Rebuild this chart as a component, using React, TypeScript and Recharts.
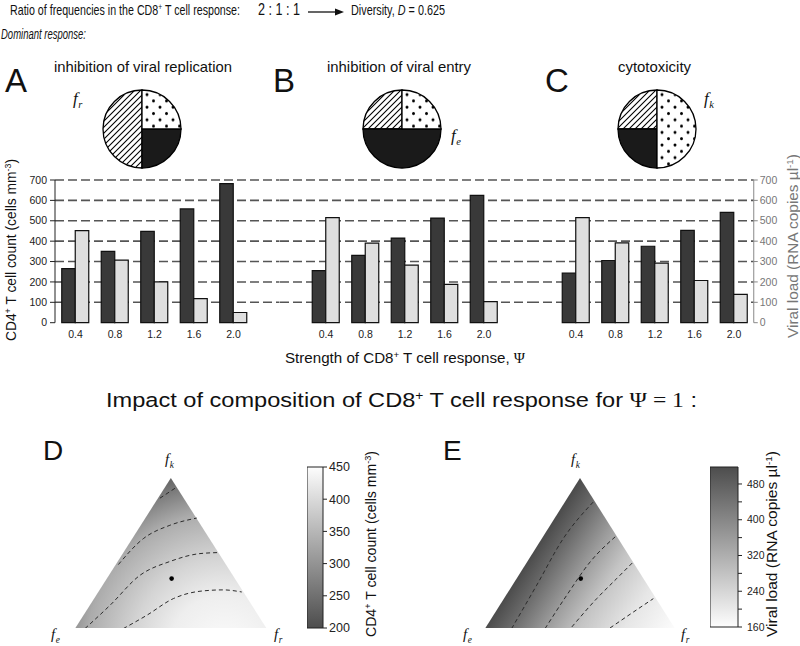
import React from 'react';
import {
  BarChart, Bar, XAxis, YAxis, CartesianGrid, PieChart, Pie, Cell,
  ComposedChart, Area, Line, Scatter, ZAxis,
} from 'recharts';

// Panels A-C: CD4 count (dark) and viral load (light) for each strength psi
const psiLabels = ['0.4', '0.8', '1.2', '1.6', '2.0'];
const cd4Replication = [265, 350, 448, 558, 682];
const viralReplication = [452, 307, 200, 118, 50];
const cd4Entry = [255, 330, 415, 513, 625];
const viralEntry = [515, 390, 282, 188, 103];
const cd4Cytotox = [243, 305, 375, 453, 541];
const viralCytotox = [515, 392, 292, 207, 139];
const countTicks = [0, 100, 200, 300, 400, 500, 600, 700];
const gridValues = [100, 200, 300, 400, 500, 600, 700];

// pie slices: f_r (hatched), f_e (black), f_k (dotted)
const pieNames = ['f_r', 'f_e', 'f_k'];
const ratioReplication = [2, 1, 1];
const ratioEntry = [1, 2, 1];
const ratioCytotox = [1, 1, 2];

// Panels D-E: ternary triangles (unit coords) and contour lines
const triangleCorners = [[0, 0], [0.5, 1], [1, 0]];
const contoursCd4 = [
  [[0.443, 0.866], [0.53, 0.939]],
  [[0.226, 0.425], [0.356, 0.597], [0.495, 0.686], [0.635, 0.734]],
  [[0.052, 0.0], [0.183, 0.155], [0.339, 0.354], [0.496, 0.446], [0.652, 0.498], [0.756, 0.505]],
  [[0.252, 0.0], [0.374, 0.088], [0.513, 0.199], [0.652, 0.248], [0.774, 0.257], [0.87, 0.243]],
];
const contoursViral = [
  [[0.14, 0.0], [0.272, 0.288], [0.412, 0.598], [0.57, 0.841]],
  [[0.316, 0.0], [0.43, 0.221], [0.553, 0.442], [0.693, 0.618]],
  [[0.457, 0.011], [0.588, 0.199], [0.693, 0.332], [0.781, 0.443]],
  [[0.658, 0.004], [0.781, 0.11], [0.886, 0.199]],
];
const compositionPoint = [0.504, 0.332];
const cd4ScaleDomain = [200, 450];
const cd4ScaleTicks = [200, 250, 300, 350, 400, 450];
const viralScaleDomain = [160, 518];
const viralScaleTicks = [160, 200, 240, 280, 320, 360, 400, 440, 480];
const viralScaleLabels = [160, 240, 320, 400, 480];

const SANS = '"Liberation Sans", Arial, sans-serif';
const SERIF = '"Liberation Serif", "Times New Roman", serif';

const toPoints = (pts: number[][]) => pts.map(([x, y]) => ({ x, y }));

const FLabel = ({ x, y, sub, size = 15 }: any) => (
  <text x={x} y={y} fontFamily={SERIF} fontStyle="italic" fontSize={size} fill="#111">
    f<tspan dx={0.5} dy={4} fontSize={size * 0.62}>{sub}</tspan>
  </text>
);

const BarPanel = ({ cd4, viral, left, width, padding, axis }: any) => {
  const data = psiLabels.map((psi, i) => ({ psi, cd4: cd4[i], viral: viral[i] }));
  return (
    <div style={{ position: 'absolute', left, top: 170 }}>
      <BarChart width={width} height={180} data={data} margin={{ top: 10, right: 0, bottom: 0, left: 0 }} barGap={0}>
        <CartesianGrid vertical={false} horizontalValues={gridValues} stroke="#555" strokeWidth={1.6}
          strokeDasharray="9 4" />
        <XAxis dataKey="psi" height={27.3} padding={padding} axisLine={false} tickLine={false} interval={0}
          tick={{ fontSize: 10.5, fill: '#222' }} />
        {axis === 'left' && (
          <YAxis domain={[0, 700]} ticks={countTicks} interval={0} width={55} tickSize={5} tickMargin={3}
            axisLine={{ stroke: '#222' }} tickLine={{ stroke: '#222' }} tick={{ fontSize: 10.5, fill: '#222' }} />
        )}
        {axis === 'right' && (
          <YAxis orientation="right" domain={[0, 700]} ticks={countTicks} interval={0} width={46.75} tickSize={4}
            tickMargin={2} axisLine={{ stroke: '#888' }} tickLine={{ stroke: '#888' }}
            tick={{ fontSize: 10.5, fill: '#777' }} />
        )}
        {axis === 'none' && <YAxis hide domain={[0, 700]} ticks={countTicks} interval={0} />}
        <Bar dataKey="cd4" barSize={13.5} fill="#393939" stroke="#111" strokeWidth={1.2} isAnimationActive={false} />
        <Bar dataKey="viral" barSize={13.5} fill="#dfdfdf" stroke="#111" strokeWidth={1.2} isAnimationActive={false} />
      </BarChart>
    </div>
  );
};

const fills = ['url(#hatch)', '#1a1a1a', 'url(#dots)'];

const Composition = ({ ratio, cx }: any) => {
  const data = pieNames.map((name, i) => ({ name, value: ratio[i] }));
  return (
    <div style={{ position: 'absolute', left: cx - 45, top: 124 - 45 }}>
      <PieChart width={90} height={90}>
        <Pie data={data} dataKey="value" cx={45} cy={45} outerRadius={39} startAngle={90} endAngle={450}
          stroke="#000" strokeWidth={1.3} isAnimationActive={false}>
          {data.map((d, i) => <Cell key={d.name} fill={fills[i]} />)}
        </Pie>
      </PieChart>
    </div>
  );
};

const Ternary = ({ left, width, gradientId, contours }: any) => (
  <div style={{ position: 'absolute', left, top: 477.7 }}>
    <ComposedChart width={width} height={150.6} margin={{ top: 0, right: 0, bottom: 0, left: 0 }}>
      <XAxis type="number" dataKey="x" domain={[0, 1]} hide />
      <YAxis type="number" dataKey="y" domain={[0, 1]} hide />
      <ZAxis range={[14, 14]} />
      <Area data={toPoints(triangleCorners)} dataKey="y" type="linear" stroke="none"
        fill={`url(#${gradientId})`} fillOpacity={1} isAnimationActive={false} />
      {contours.map((c: number[][], i: number) => (
        <Line key={i} data={toPoints(c)} dataKey="y" type="monotone" stroke="#2a2a2a" strokeWidth={1}
          strokeDasharray="4 3" dot={false} isAnimationActive={false} />
      ))}
      <Scatter data={toPoints([compositionPoint])} dataKey="y" fill="#000" isAnimationActive={false}
        shape={(p: any) => <circle cx={p.cx} cy={p.cy} r={2.3} fill="#000" />} />
    </ComposedChart>
  </div>
);

const ColorScale = ({ left, height, plotWidth, axisWidth, gradientId, domain, ticks, labels, fontSize, tickMargin }: any) => (
  <div style={{ position: 'absolute', left, top: 467 - 10 }}>
    <BarChart width={plotWidth + axisWidth} height={height + 20} data={[{ name: 'scale', top: domain[1] }]}
      margin={{ top: 10, right: 0, bottom: 10, left: 0 }} barCategoryGap={0}>
      <XAxis dataKey="name" hide />
      <YAxis orientation="right" domain={domain} ticks={ticks} interval={0} width={axisWidth} axisLine={false}
        tickSize={4} tickMargin={tickMargin} tickLine={{ stroke: '#222' }} tick={{ fontSize, fill: '#222' }}
        tickFormatter={(v: number) => (labels.includes(v) ? String(v) : '')} />
      <Bar dataKey="top" fill={`url(#${gradientId})`} stroke="#222" strokeWidth={1} isAnimationActive={false} />
    </BarChart>
  </div>
);

export default function App() {
  return (
    <div style={{ position: 'absolute', left: 0, top: 0, width: 800, height: 646, background: '#fff', fontFamily: SANS }}>
      <svg width={0} height={0} style={{ position: 'absolute' }}>
        <defs>
          <pattern id="hatch" patternUnits="userSpaceOnUse" width={6} height={6}>
            <rect width={6} height={6} fill="#fff" />
            <path d="M-1,1 l2,-2 M0,6 l6,-6 M5,7 l2,-2" stroke="#000" strokeWidth={1.1} />
          </pattern>
          <pattern id="dots" patternUnits="userSpaceOnUse" width={13} height={12.6}>
            <rect width={13} height={12.6} fill="#fff" />
            <circle cx={3} cy={3} r={1.5} fill="#000" />
            <circle cx={9.5} cy={9.3} r={1.5} fill="#000" />
          </pattern>
          <radialGradient id="gradCd4" gradientUnits="userSpaceOnUse" cx={150} cy={172} r={185}>
            <stop offset="0" stopColor="#fcfcfc" />
            <stop offset="0.3" stopColor="#eeeeee" />
            <stop offset="0.5" stopColor="#d4d4d4" />
            <stop offset="0.75" stopColor="#ababab" />
            <stop offset="1" stopColor="#5c5c5c" />
          </radialGradient>
          <linearGradient id="gradViral" gradientUnits="userSpaceOnUse" x1={0} y1={150.6} x2={134.9} y2={236.8}>
            <stop offset="0" stopColor="#4c4c4c" />
            <stop offset="0.13" stopColor="#6a6a6a" />
            <stop offset="0.32" stopColor="#9c9c9c" />
            <stop offset="0.49" stopColor="#c4c4c4" />
            <stop offset="0.73" stopColor="#e6e6e6" />
            <stop offset="1" stopColor="#fcfcfc" />
          </linearGradient>
          <linearGradient id="scaleCd4" x1={0} y1={0} x2={0} y2={1}>
            <stop offset="0" stopColor="#fdfdfd" />
            <stop offset="1" stopColor="#4d4d4d" />
          </linearGradient>
          <linearGradient id="scaleViral" x1={0} y1={0} x2={0} y2={1}>
            <stop offset="0" stopColor="#4d4d4d" />
            <stop offset="1" stopColor="#fdfdfd" />
          </linearGradient>
        </defs>
      </svg>

      <Composition ratio={ratioReplication} cx={137} />
      <Composition ratio={ratioEntry} cx={396.5} />
      <Composition ratio={ratioCytotox} cx={652} />

      <BarPanel cd4={cd4Replication} viral={viralReplication} left={0} width={279.5}
        padding={{ left: 0.75, right: 26.25 }} axis="left" />
      <BarPanel cd4={cd4Entry} viral={viralEntry} left={279.5} width={250}
        padding={{ left: 26.25, right: 26.25 }} axis="none" />
      <BarPanel cd4={cd4Cytotox} viral={viralCytotox} left={529.5} width={270.5}
        padding={{ left: 26.25, right: 0 }} axis="right" />

      <Ternary left={75} width={191.7} gradientId="gradCd4" contours={contoursCd4} />
      <Ternary left={485} width={190} gradientId="gradViral" contours={contoursViral} />

      <ColorScale left={307} height={161} plotWidth={16} axisWidth={40} gradientId="scaleCd4"
        domain={cd4ScaleDomain} ticks={cd4ScaleTicks} labels={cd4ScaleTicks} fontSize={12.5} tickMargin={2} />
      <ColorScale left={710} height={160} plotWidth={28} axisWidth={34} gradientId="scaleViral"
        domain={viralScaleDomain} ticks={viralScaleTicks} labels={viralScaleLabels} fontSize={10.5} tickMargin={5} />

      <svg width={800} height={646} style={{ position: 'absolute', left: 0, top: 0, pointerEvents: 'none' }}
        fontFamily={SANS} fill="#111">
        <text x={10} y={15} fontSize={14.5} textLength={230} lengthAdjust="spacingAndGlyphs">
          Ratio of frequencies in the CD8<tspan dy={-5} fontSize={9}>+</tspan><tspan dy={5}> T cell response:</tspan>
        </text>
        <text x={258} y={15} fontSize={16.5} textLength={42} lengthAdjust="spacingAndGlyphs">2 : 1 : 1</text>
        <line x1={308} y1={12} x2={337} y2={12} stroke="#111" strokeWidth={1.3} />
        <polygon points="335,8.5 344,12 335,15.5" fill="#111" />
        <text x={351} y={15} fontSize={14.5} textLength={94} lengthAdjust="spacingAndGlyphs">
          Diversity, <tspan fontStyle="italic">D</tspan> = 0.625
        </text>
        <text x={1} y={39} fontSize={14} fontStyle="italic" textLength={85} lengthAdjust="spacingAndGlyphs">
          Dominant response:
        </text>

        <text x={5} y={92} fontSize={33}>A</text>
        <text x={273} y={92} fontSize={33}>B</text>
        <text x={545} y={92} fontSize={33}>C</text>
        <text x={54} y={72} fontSize={14.5} textLength={178} lengthAdjust="spacingAndGlyphs">inhibition of viral replication</text>
        <text x={327} y={72} fontSize={14.5} textLength={144} lengthAdjust="spacingAndGlyphs">inhibition of viral entry</text>
        <text x={618} y={72} fontSize={14.5} textLength={73} lengthAdjust="spacingAndGlyphs">cytotoxicity</text>
        <FLabel x={73} y={104} sub="r" size={17} />
        <FLabel x={451} y={141} sub="e" size={17} />
        <FLabel x={704} y={104} sub="k" size={17} />

        <text transform="translate(15.5,250) rotate(-90)" textAnchor="middle" fontSize={14} textLength={182}
          lengthAdjust="spacingAndGlyphs">
          CD4<tspan dy={-5} fontSize={9}>+</tspan><tspan dy={5}> T cell count (cells mm</tspan>
          <tspan dy={-5} fontSize={9}>-3</tspan><tspan dy={5}>)</tspan>
        </text>
        <text transform="translate(798,246) rotate(-90)" textAnchor="middle" fontSize={14} textLength={184}
          lengthAdjust="spacingAndGlyphs" fill="#777">
          Viral load (RNA copies µl<tspan dy={-5} fontSize={9}>-1</tspan><tspan dy={5}>)</tspan>
        </text>
        <text x={285} y={363} fontSize={14} textLength={240} lengthAdjust="spacingAndGlyphs">
          Strength of CD8<tspan dy={-5} fontSize={9}>+</tspan><tspan dy={5}> T cell response, </tspan>
          <tspan fontFamily={SERIF}>Ψ</tspan>
        </text>

        <text x={106} y={407} fontSize={20.5} textLength={591} lengthAdjust="spacingAndGlyphs">
          Impact of composition of CD8<tspan dy={-7} fontSize={12}>+</tspan><tspan dy={7}> T cell response for </tspan>
          <tspan fontFamily={SERIF}>Ψ = 1</tspan> :
        </text>
        <text x={43} y={460} fontSize={28}>D</text>
        <text x={443} y={460} fontSize={28}>E</text>
        <FLabel x={165} y={464} sub="k" />
        <FLabel x={51} y={639} sub="e" />
        <FLabel x={274} y={639} sub="r" />
        <FLabel x={571} y={464} sub="k" />
        <FLabel x={463} y={639} sub="e" />
        <FLabel x={681} y={639} sub="r" />
        <text transform="translate(376,544) rotate(-90)" textAnchor="middle" fontSize={14} textLength={186}
          lengthAdjust="spacingAndGlyphs">
          CD4<tspan dy={-5} fontSize={9}>+</tspan><tspan dy={5}> T cell count (cells mm</tspan>
          <tspan dy={-5} fontSize={9}>-3</tspan><tspan dy={5}>)</tspan>
        </text>
        <text transform="translate(777,544) rotate(-90)" textAnchor="middle" fontSize={14} textLength={186}
          lengthAdjust="spacingAndGlyphs">
          Viral load (RNA copies µl<tspan dy={-5} fontSize={9}>-1</tspan><tspan dy={5}>)</tspan>
        </text>
      </svg>
    </div>
  );
}
